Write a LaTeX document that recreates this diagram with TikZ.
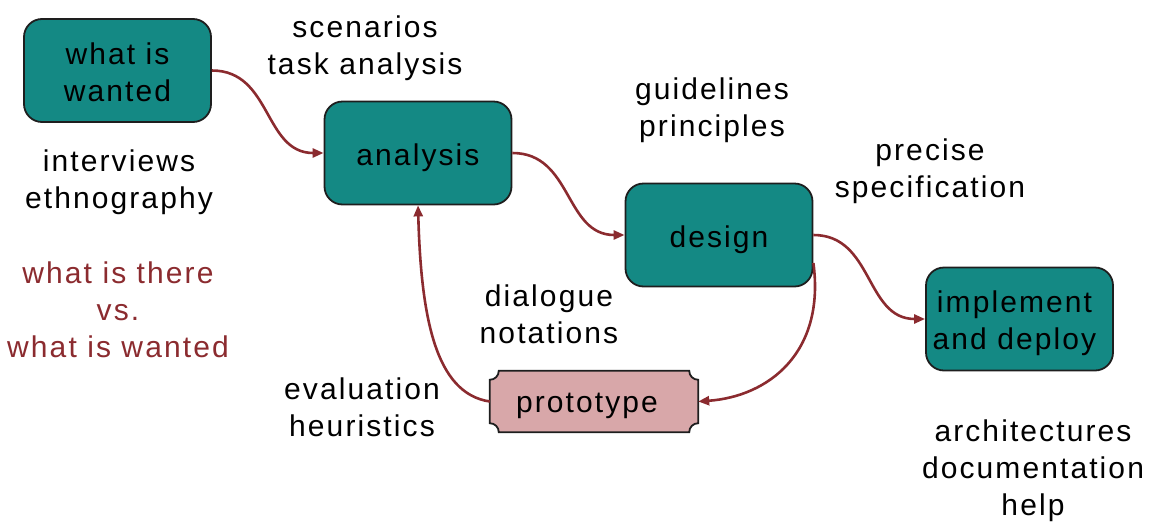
\documentclass[tikz,border=0pt]{standalone}
\usepackage{fontspec}
\setmainfont{Liberation Sans}[LetterSpace=7]
\usetikzlibrary{arrows.meta,calc,backgrounds}
\definecolor{teal}{RGB}{20,137,132}
\definecolor{pinkbox}{RGB}{216,167,169}
\definecolor{darkred}{RGB}{139,43,47}
\definecolor{outline}{RGB}{30,30,30}
\newcommand\topstrut[1]{\rule{0pt}{#1}}
\begin{document}
\begin{tikzpicture}[x=1pt,y=-1pt,
  txt/.style={font=\fontsize{30}{37}\selectfont,align=center,inner sep=0pt,text=black},
  redtxt/.style={txt,text=darkred},
  tealbox/.style={draw=outline,line width=1.8pt,fill=teal,rounded corners=18pt,
     minimum width=187pt,minimum height=103pt,inner sep=0pt,
     font=\fontsize{30}{37}\selectfont,align=center},
  flow/.style={draw=darkred,line width=2.6pt,-{Triangle[length=11pt,width=9pt]}}]
\useasboundingbox (0,0) rectangle (1152,528);
% boxes
\node[tealbox] (w)  at (117.5,70.5) {\topstrut{26pt}what is\\wanted};
\node[tealbox] (an) at (418,153) {\topstrut{32pt}analysis};
\node[tealbox] (de) at (719,235) {\topstrut{32pt}design};
\node[tealbox] (im) at (1019.5,319) {\topstrut{31pt}implement\hspace*{10pt}\\and deploy\hspace*{10pt}};
\node[minimum width=208pt,minimum height=61pt,inner sep=0pt,
      font=\fontsize{30}{37}\selectfont] (pr) at (594,401.5) {\topstrut{28pt}prototype\hspace*{14pt}};
\begin{scope}[on background layer]
\draw[draw=outline,line width=1.8pt,fill=pinkbox]
  let \p1=(pr.north west), \p2=(pr.south east) in
  (\x1+9pt,\y1) -- (\x2-9pt,\y1)
  .. controls (\x2-9pt,\y1-5pt) and (\x2-5pt,\y1-9pt) .. (\x2,\y1-9pt)
  -- (\x2,\y2+9pt)
  .. controls (\x2-5pt,\y2+9pt) and (\x2-9pt,\y2+5pt) .. (\x2-9pt,\y2)
  -- (\x1+9pt,\y2)
  .. controls (\x1+9pt,\y2+5pt) and (\x1+5pt,\y2+9pt) .. (\x1,\y2+9pt)
  -- (\x1,\y1-9pt)
  .. controls (\x1+5pt,\y1-9pt) and (\x1+9pt,\y1-5pt) .. cycle;
\end{scope}
% labels
\node[txt] (l1) at (365,48) {scenarios\\task analysis};
\node[txt] (l2) at (119,182) {interviews\\ethnography};
\node[redtxt] (l3) at (118,310) {what is there\\vs.\\what is wanted};
\node[txt] (l4) at (712,110) {guidelines\\principles};
\node[txt] (l5) at (930,171) {precise\\specification};
\node[txt] (l6) at (549,314) {dialogue\\notations};
\node[txt] (l7) at (362,407) {evaluation\\heuristics};
\node[txt] (l8) at (1033,471) {architectures\\documentation\\help};
% connectors
\draw[flow] (w.east) .. controls +(60,0) and +(-60,0) .. (an.west);
\draw[flow] (an.east) .. controls +(60,0) and +(-60,0) .. (de.west);
\draw[flow] (de.east) .. controls +(60,0) and +(-60,0) .. (im.west);
\draw[flow] ([yshift=-28pt]de.east) .. controls +(12,90) and +(70,-5) .. (pr.east);
\draw[flow] (pr.west) .. controls +(-55,-8) and +(3,110) .. (an.south);
\end{tikzpicture}
\end{document}
